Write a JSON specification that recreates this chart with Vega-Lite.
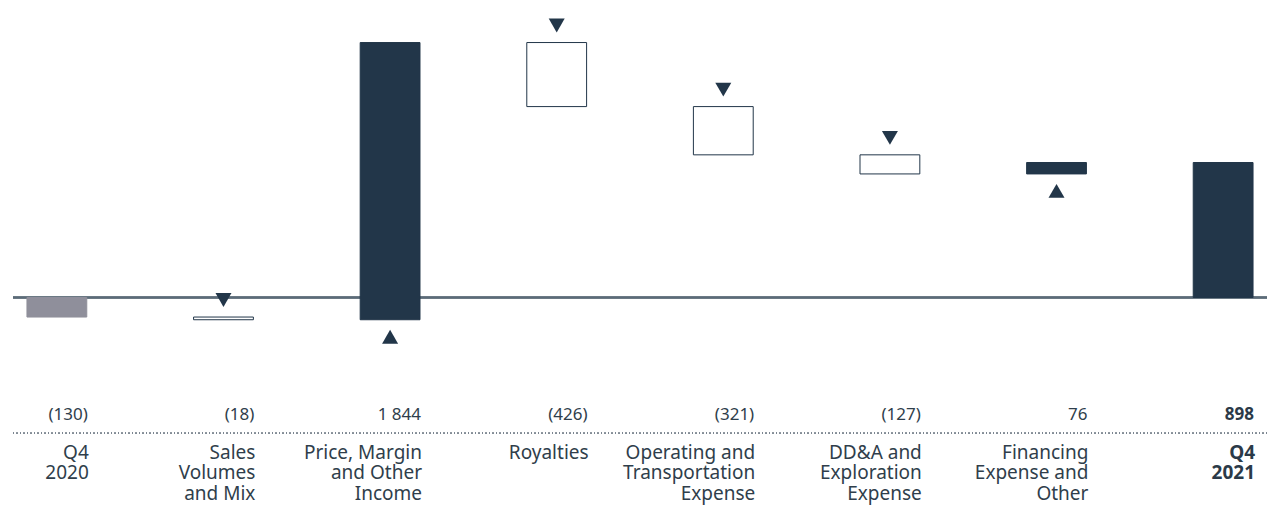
{
  "$schema": "https://vega.github.io/schema/vega-lite/v6.json",
  "autosize": {"type": "fit", "contains": "padding"},
  "width": 1268,
  "height": 509,
  "padding": {"left": 12, "top": 0, "right": 0, "bottom": 0},
  "background": "#ffffff",
  "config": {"view": {"stroke": null}, "font": "Noto Sans"},
  "data": {
    "values": [
      {"cat": "Q4 2020", "lines": ["Q4", "2020"], "start": 0, "end": -130, "label": "(130)", "type": "start"},
      {"cat": "Sales Volumes and Mix", "lines": ["Sales", "Volumes", "and Mix"], "start": -130, "end": -148, "label": "(18)", "type": "dec"},
      {"cat": "Price, Margin and Other Income", "lines": ["Price, Margin", "and Other", "Income"], "start": -148, "end": 1696, "label": "1 844", "type": "inc"},
      {"cat": "Royalties", "lines": ["Royalties"], "start": 1696, "end": 1270, "label": "(426)", "type": "dec"},
      {"cat": "Operating and Transportation Expense", "lines": ["Operating and", "Transportation", "Expense"], "start": 1270, "end": 949, "label": "(321)", "type": "dec"},
      {"cat": "DD&A and Exploration Expense", "lines": ["DD&A and", "Exploration", "Expense"], "start": 949, "end": 822, "label": "(127)", "type": "dec"},
      {"cat": "Financing Expense and Other", "lines": ["Financing", "Expense and", "Other"], "start": 822, "end": 898, "label": "76", "type": "inc"},
      {"cat": "Q4 2021", "lines": ["Q4", "2021"], "start": 0, "end": 898, "label": "898", "type": "end"}
    ]
  },
  "encoding": {
    "x": {"field": "cat", "type": "nominal", "sort": null, "axis": null,
          "scale": {"paddingInner": 0.641, "paddingOuter": 0.0838}}
  },
  "layer": [
    {
      "mark": {"type": "rule", "color": "#5b6b79", "strokeWidth": 1.5},
      "encoding": {"x": null, "y": {"datum": 0, "type": "quantitative",
        "scale": {"domain": [-1407, 1979], "nice": false, "zero": false}, "axis": null}}
    },
    {
      "mark": {"type": "rule", "color": "#7d8791", "strokeWidth": 1, "strokeDash": [1, 2.5]},
      "encoding": {"x": null, "y": {"datum": -902, "type": "quantitative"}}
    },
    {
      "mark": {"type": "bar", "strokeWidth": 1},
      "encoding": {
        "y": {"field": "start", "type": "quantitative"},
        "y2": {"field": "end"},
        "fill": {"field": "type", "type": "nominal", "legend": null,
          "scale": {"domain": ["start", "dec", "inc", "end"], "range": ["#8f8f9b", "#ffffff", "#223649", "#223649"]}},
        "stroke": {"field": "type", "type": "nominal", "legend": null,
          "scale": {"domain": ["start", "dec", "inc", "end"], "range": ["#8f8f9b", "#223649", "#223649", "#223649"]}}
      }
    },
    {
      "transform": [{"filter": "datum.type == 'dec'"}],
      "mark": {"type": "point", "shape": "triangle-down", "filled": true, "color": "#223649", "size": 256, "opacity": 1, "yOffset": -17},
      "encoding": {"y": {"field": "start", "type": "quantitative"}}
    },
    {
      "transform": [{"filter": "datum.type == 'inc'"}],
      "mark": {"type": "point", "shape": "triangle-up", "filled": true, "color": "#223649", "size": 256, "opacity": 1, "yOffset": 17},
      "encoding": {"y": {"field": "start", "type": "quantitative"}}
    },
    {
      "transform": [{"filter": "datum.type != 'end'"}],
      "mark": {"type": "text", "align": "right", "baseline": "alphabetic", "fontSize": 17, "dx": 1, "color": "#2f3e4b"},
      "encoding": {
        "x": {"field": "cat", "type": "nominal", "sort": null, "bandPosition": 1},
        "y": {"datum": -815, "type": "quantitative"},
        "text": {"field": "label"}
      }
    },
    {
      "transform": [{"filter": "datum.type == 'end'"}],
      "mark": {"type": "text", "align": "right", "baseline": "alphabetic", "fontSize": 17, "dx": 1, "fontWeight": "bold", "color": "#2b3a48"},
      "encoding": {
        "x": {"field": "cat", "type": "nominal", "sort": null, "bandPosition": 1},
        "y": {"datum": -815, "type": "quantitative"},
        "text": {"field": "label"}
      }
    },
    {
      "transform": [{"filter": "datum.type != 'end'"}],
      "mark": {"type": "text", "align": "right", "baseline": "alphabetic", "fontSize": 19, "lineHeight": 20.5, "dx": 2, "color": "#2f3e4b"},
      "encoding": {
        "x": {"field": "cat", "type": "nominal", "sort": null, "bandPosition": 1},
        "y": {"datum": -1074, "type": "quantitative"},
        "text": {"field": "lines"}
      }
    },
    {
      "transform": [{"filter": "datum.type == 'end'"}],
      "mark": {"type": "text", "align": "right", "baseline": "alphabetic", "fontSize": 19, "lineHeight": 20.5, "dx": 2, "fontWeight": "bold", "color": "#2b3a48"},
      "encoding": {
        "x": {"field": "cat", "type": "nominal", "sort": null, "bandPosition": 1},
        "y": {"datum": -1074, "type": "quantitative"},
        "text": {"field": "lines"}
      }
    }
  ]
}
